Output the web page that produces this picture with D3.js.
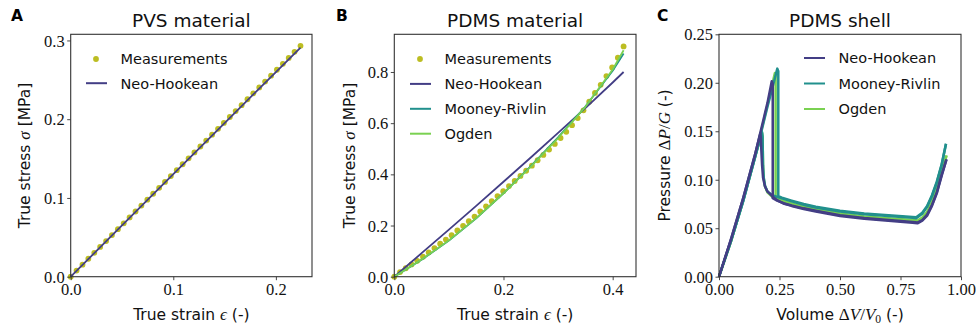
<!DOCTYPE html>
<html>
<head>
<meta charset="utf-8">
<script src="https://cdn.jsdelivr.net/npm/d3@7"></script>
<style>
body { margin: 0; background: #fff; }
</style>
</head>
<body>
<svg width="979" height="327"></svg>
<script>
// ---- panel A : PVS material ----
const pvsStrain = [0, 0.0057, 0.0115, 0.0172, 0.0230, 0.0287, 0.0345, 0.0402, 0.0460, 0.0517, 0.0574,
  0.0632, 0.0689, 0.0747, 0.0804, 0.0862, 0.0919, 0.0976, 0.1034, 0.1091, 0.1149, 0.1206, 0.1264,
  0.1321, 0.1378, 0.1436, 0.1493, 0.1551, 0.1608, 0.1666, 0.1723, 0.1780, 0.1838, 0.1895, 0.1953,
  0.2010, 0.2068, 0.2125, 0.2182, 0.2240];
const pvsStress = [0, 0.0078, 0.0153, 0.0228, 0.0303, 0.0378, 0.0453, 0.0528, 0.0603, 0.0678, 0.0753,
  0.0828, 0.0903, 0.0978, 0.1053, 0.1128, 0.1203, 0.1278, 0.1353, 0.1428, 0.1503, 0.1578, 0.1653,
  0.1728, 0.1803, 0.1878, 0.1953, 0.2028, 0.2103, 0.2178, 0.2253, 0.2328, 0.2403, 0.2478, 0.2553,
  0.2628, 0.2703, 0.2778, 0.2855, 0.2932];
const pvsFitStrain = [0, 0.05, 0.1, 0.15, 0.2, 0.224];
const pvsFitStress = [0, 0.0651, 0.1302, 0.1951, 0.2599, 0.2910];

// ---- panel B : PDMS material ----
const pdmsStrain = [0, 0.0105, 0.021, 0.0315, 0.042, 0.0525, 0.063, 0.0735, 0.084, 0.0945, 0.105,
  0.1155, 0.126, 0.1365, 0.147, 0.1575, 0.168, 0.1785, 0.189, 0.1995, 0.21, 0.2205, 0.231, 0.2415,
  0.252, 0.2625, 0.273, 0.2835, 0.294, 0.3045, 0.315, 0.3255, 0.336, 0.3465, 0.357, 0.3675, 0.378,
  0.3885, 0.399, 0.4095, 0.42];
const pdmsStress = [0, 0.018, 0.033, 0.048, 0.062, 0.078, 0.095, 0.112, 0.129, 0.145, 0.162,
  0.181, 0.199, 0.217, 0.235, 0.255, 0.275, 0.295, 0.315, 0.334, 0.354, 0.374, 0.394, 0.414,
  0.434, 0.455, 0.476, 0.497, 0.519, 0.542, 0.566, 0.592, 0.620, 0.650, 0.684, 0.718, 0.750,
  0.784, 0.818, 0.856, 0.900];
const pdmsFitStrain = [0, 0.05, 0.1, 0.15, 0.2, 0.25, 0.3, 0.35, 0.4, 0.42];
const neoHookeanStress = [0, 0.092, 0.184, 0.277, 0.371, 0.466, 0.562, 0.659, 0.759, 0.800];
const mooneyRivlinStress = [0, 0.066, 0.141, 0.228, 0.326, 0.432, 0.545, 0.665, 0.805, 0.872];
const ogdenStress = [0, 0.067, 0.142, 0.229, 0.326, 0.430, 0.542, 0.664, 0.810, 0.885];

// ---- panel C : PDMS shell (loading, then unloading) ----
const nhLoadV = [0, 0.05, 0.1, 0.15, 0.2, 0.218, 0.222, 0.222, 0.24, 0.27, 0.3, 0.35, 0.4, 0.5, 0.6,
  0.7, 0.8, 0.82, 0.84, 0.86, 0.88, 0.9, 0.92, 0.94];
const nhLoadP = [0, 0.039, 0.081, 0.127, 0.179, 0.2015, 0.199, 0.081, 0.0785, 0.0755, 0.0735, 0.0705,
  0.068, 0.0635, 0.0605, 0.0585, 0.0565, 0.0558, 0.0585, 0.064, 0.074, 0.087, 0.105, 0.121];
const nhUnloadV = [0.94, 0.92, 0.9, 0.88, 0.86, 0.84, 0.82, 0.8, 0.7, 0.6, 0.5, 0.4, 0.35, 0.3, 0.27,
  0.24, 0.22, 0.2, 0.19, 0.182, 0.178, 0.175, 0.173, 0.171, 0.15, 0.1, 0.05, 0];
const nhUnloadP = [0.121, 0.104, 0.086, 0.073, 0.063, 0.0577, 0.055, 0.0557, 0.0577, 0.0597, 0.0627,
  0.0672, 0.0698, 0.073, 0.0752, 0.079, 0.083, 0.088, 0.093, 0.102, 0.115, 0.13, 0.143, 0.148,
  0.127, 0.081, 0.039, 0];

const mrLoadV = [0, 0.05, 0.1, 0.15, 0.2, 0.241, 0.245, 0.245, 0.26, 0.3, 0.35, 0.4, 0.5, 0.6, 0.7,
  0.8, 0.815, 0.84, 0.86, 0.88, 0.9, 0.92, 0.938];
const mrLoadP = [0, 0.037, 0.078, 0.124, 0.175, 0.2146, 0.212, 0.083, 0.0815, 0.0785, 0.075, 0.0722,
  0.068, 0.0653, 0.0633, 0.0615, 0.0612, 0.066, 0.073, 0.084, 0.098, 0.116, 0.137];
const mrUnloadV = [0.938, 0.92, 0.9, 0.88, 0.86, 0.84, 0.815, 0.8, 0.7, 0.6, 0.5, 0.4, 0.35, 0.3,
  0.25, 0.22, 0.2, 0.19, 0.185, 0.182, 0.181, 0.18, 0.178, 0.15, 0.1, 0.05, 0];
const mrUnloadP = [0.137, 0.115, 0.097, 0.083, 0.072, 0.065, 0.0604, 0.0607, 0.0625, 0.0645, 0.0672,
  0.0714, 0.0742, 0.0777, 0.0815, 0.084, 0.088, 0.094, 0.102, 0.115, 0.13, 0.145, 0.149, 0.124,
  0.078, 0.037, 0];

const ogLoadV = [0, 0.05, 0.1, 0.15, 0.2, 0.231, 0.234, 0.234, 0.26, 0.3, 0.35, 0.4, 0.5, 0.6, 0.7,
  0.8, 0.82, 0.84, 0.86, 0.88, 0.9, 0.92, 0.94];
const ogLoadP = [0, 0.037, 0.079, 0.125, 0.177, 0.21, 0.208, 0.081, 0.0785, 0.0755, 0.0722, 0.0695,
  0.0652, 0.0622, 0.0602, 0.0585, 0.058, 0.061, 0.067, 0.077, 0.09, 0.107, 0.125];
const ogUnloadV = [0.94, 0.92, 0.9, 0.88, 0.86, 0.84, 0.82, 0.8, 0.7, 0.6, 0.5, 0.4, 0.35, 0.3, 0.25,
  0.22, 0.2, 0.19, 0.185, 0.182, 0.181, 0.18, 0.178, 0.15, 0.1, 0.05, 0];
const ogUnloadP = [0.125, 0.106, 0.089, 0.076, 0.066, 0.0598, 0.0573, 0.0578, 0.0595, 0.0615, 0.0645,
  0.0688, 0.0715, 0.075, 0.0795, 0.0825, 0.087, 0.093, 0.101, 0.114, 0.129, 0.144, 0.148, 0.125,
  0.079, 0.037, 0];

// ---- ticks ----
const ticksAx = [0, 0.1, 0.2];
const ticksAy = [0, 0.1, 0.2, 0.3];
const ticksBx = [0, 0.2, 0.4];
const ticksBy = [0, 0.2, 0.4, 0.6, 0.8];
const ticksCx = [0, 0.25, 0.5, 0.75, 1];
const ticksCy = [0, 0.05, 0.1, 0.15, 0.2, 0.25];

const colMeas = "#bcbd22", colNH = "#433e85", colMR = "#21908d", colOG = "#7ad151";
const sansF = "'DejaVu Sans', sans-serif";
const serifF = "'Liberation Serif', serif";

const svg = d3.select("svg");
const plotTop = 34.3, plotBottom = 276.7;

function zip(xs, ys) { return xs.map((x, i) => [x, ys[i]]); }

// rich text: parts = [[string, kind]] where kind is sans | it | rm | sub | unsub
function richText(t, parts, size) {
  parts.forEach(p => {
    const ts = t.append("tspan").text(p[0]);
    if (p[1] === "sans") ts.attr("font-family", sansF);
    if (p[1] === "it") ts.attr("font-family", serifF).attr("font-style", "italic").attr("font-size", size + 1.5);
    if (p[1] === "rm") ts.attr("font-family", serifF).attr("font-size", size + 1.5);
    if (p[1] === "sub") ts.attr("font-family", serifF).attr("font-size", size * 0.75).attr("dy", 3);
    if (p[1] === "unsub") ts.attr("font-family", sansF).attr("dy", -3);
  });
}

function panel(cfg) {
  const x = d3.scaleLinear().domain(cfg.xDomain).range([cfg.left, cfg.right]);
  const y = d3.scaleLinear().domain(cfg.yDomain).range([plotBottom, plotTop]);
  const g = svg.append("g");

  const clipId = "clip" + cfg.letter;
  svg.append("clipPath").attr("id", clipId).append("rect")
    .attr("x", cfg.left - 4).attr("y", plotTop - 4)
    .attr("width", cfg.right - cfg.left + 8).attr("height", plotBottom - plotTop + 8);

  const plot = g.append("g").attr("clip-path", `url(#${clipId})`);
  const line = d3.line().x(d => x(d[0])).y(d => y(d[1]));

  if (cfg.dots) {
    plot.selectAll("circle").data(cfg.dots).join("circle")
      .attr("cx", d => x(d[0])).attr("cy", d => y(d[1])).attr("r", 2.9)
      .attr("fill", colMeas);
  }
  cfg.lines.forEach(s => {
    plot.append("path").datum(s.data)
      .attr("d", line).attr("fill", "none")
      .attr("stroke", s.color).attr("stroke-width", s.width)
      .attr("stroke-linejoin", "round");
  });

  // axes
  const xa = g.append("g").attr("transform", `translate(0,${plotBottom})`)
    .call(d3.axisBottom(x).tickValues(cfg.xTicks).tickFormat(d3.format(cfg.xFmt))
      .tickSize(3.5).tickSizeOuter(0).tickPadding(2.5));
  const ya = g.append("g").attr("transform", `translate(${cfg.left},0)`)
    .call(d3.axisLeft(y).tickValues(cfg.yTicks).tickFormat(d3.format(cfg.yFmt))
      .tickSize(3.5).tickSizeOuter(0).tickPadding(2.5));
  [xa, ya].forEach(a => {
    a.select(".domain").remove();
    a.selectAll(".tick line").attr("stroke", "#333").attr("stroke-width", 0.9);
    a.selectAll(".tick text").attr("font-family", serifF).attr("font-size", 16.5).attr("fill", "#111");
  });
  xa.selectAll(".tick text").attr("dy", "0.76em");
  ya.selectAll(".tick text").attr("dy", "0.34em");

  g.append("rect").attr("x", cfg.left).attr("y", plotTop)
    .attr("width", cfg.right - cfg.left).attr("height", plotBottom - plotTop)
    .attr("fill", "none").attr("stroke", "#333").attr("stroke-width", 1.1);

  // title and panel letter
  g.append("text").attr("x", (cfg.left + cfg.right) / 2).attr("y", 27)
    .attr("text-anchor", "middle").attr("font-family", sansF).attr("font-size", 18.5)
    .attr("fill", "#111").text(cfg.title);
  g.append("text").attr("x", cfg.letterX).attr("y", 21)
    .attr("font-family", sansF).attr("font-weight", "bold").attr("font-size", 15.5)
    .attr("fill", "#000").text(cfg.letter);

  // axis labels
  const xl = g.append("text").attr("x", (cfg.left + cfg.right) / 2).attr("y", 320)
    .attr("text-anchor", "middle").attr("font-family", sansF).attr("font-size", 15.5).attr("fill", "#111");
  richText(xl, cfg.xLabel, 15.5);
  const yl = g.append("text")
    .attr("transform", `translate(${cfg.yLabelX},${(plotTop + plotBottom) / 2}) rotate(-90)`)
    .attr("text-anchor", "middle").attr("font-family", sansF).attr("font-size", 15.5).attr("fill", "#111");
  richText(yl, cfg.yLabel, 15.5);

  // legend
  const lg = g.append("g");
  cfg.legend.forEach((it, i) => {
    const cy = cfg.legY + i * cfg.legStep;
    if (it.dot) {
      lg.append("circle").attr("cx", cfg.legX + 10).attr("cy", cy).attr("r", 2.9).attr("fill", it.color);
    } else {
      lg.append("line").attr("x1", cfg.legX).attr("x2", cfg.legX + 21)
        .attr("y1", cy).attr("y2", cy).attr("stroke", it.color).attr("stroke-width", 2);
    }
    lg.append("text").attr("x", cfg.legX + 34.5).attr("y", cy + 5.3)
      .attr("font-family", sansF).attr("font-size", 14.5).attr("fill", "#111").text(it.label);
  });
}

panel({
  letter: "A", letterX: 11, title: "PVS material",
  left: 70.7, right: 312, xDomain: [0, 0.2352], yDomain: [0, 0.3078],
  xTicks: ticksAx, yTicks: ticksAy, xFmt: ".1f", yFmt: ".1f",
  dots: zip(pvsStrain, pvsStress),
  lines: [{ data: zip(pvsFitStrain, pvsFitStress), color: colNH, width: 1.8 }],
  xLabel: [["True strain ", "sans"], ["ϵ", "it"], [" (-)", "sans"]],
  yLabel: [["True stress ", "sans"], ["σ", "it"], [" [MPa]", "sans"]],
  yLabelX: 30,
  legX: 86, legY: 59, legStep: 24.2,
  legend: [{ dot: true, color: colMeas, label: "Measurements" }, { color: colNH, label: "Neo-Hookean" }]
});

panel({
  letter: "B", letterX: 336, title: "PDMS material",
  left: 394.3, right: 636, xDomain: [0, 0.4427], yDomain: [0, 0.9473],
  xTicks: ticksBx, yTicks: ticksBy, xFmt: ".1f", yFmt: ".1f",
  dots: zip(pdmsStrain, pdmsStress),
  lines: [
    { data: zip(pdmsFitStrain, neoHookeanStress), color: colNH, width: 1.8 },
    { data: zip(pdmsFitStrain, mooneyRivlinStress), color: colMR, width: 1.8 },
    { data: zip(pdmsFitStrain, ogdenStress), color: colOG, width: 1.8 }
  ],
  xLabel: [["True strain ", "sans"], ["ϵ", "it"], [" (-)", "sans"]],
  yLabel: [["True stress ", "sans"], ["σ", "it"], [" [MPa]", "sans"]],
  yLabelX: 355,
  legX: 410, legY: 59, legStep: 24.9,
  legend: [{ dot: true, color: colMeas, label: "Measurements" }, { color: colNH, label: "Neo-Hookean" },
    { color: colMR, label: "Mooney-Rivlin" }, { color: colOG, label: "Ogden" }]
});

panel({
  letter: "C", letterX: 657, title: "PDMS shell",
  left: 719, right: 961, xDomain: [0, 1], yDomain: [0, 0.25],
  xTicks: ticksCx, yTicks: ticksCy, xFmt: ".2f", yFmt: ".2f",
  lines: [
    { data: zip(ogLoadV, ogLoadP), color: colOG, width: 2.5 },
    { data: zip(ogUnloadV, ogUnloadP), color: colOG, width: 2.5 },
    { data: zip(mrLoadV, mrLoadP), color: colMR, width: 2.5 },
    { data: zip(mrUnloadV, mrUnloadP), color: colMR, width: 2.5 },
    { data: zip(nhLoadV, nhLoadP), color: colNH, width: 2.5 },
    { data: zip(nhUnloadV, nhUnloadP), color: colNH, width: 2.5 }
  ],
  xLabel: [["Volume ", "sans"], ["Δ", "rm"], ["V", "it"], ["/", "rm"], ["V", "it"], ["0", "sub"], [" (-)", "unsub"]],
  yLabel: [["Pressure ", "sans"], ["Δ", "rm"], ["P", "it"], ["/", "rm"], ["G", "it"], [" (-)", "sans"]],
  yLabelX: 670,
  legX: 804, legY: 58, legStep: 25.5,
  legend: [{ color: colNH, label: "Neo-Hookean" }, { color: colMR, label: "Mooney-Rivlin" },
    { color: colOG, label: "Ogden" }]
});
</script>
</body>
</html>
